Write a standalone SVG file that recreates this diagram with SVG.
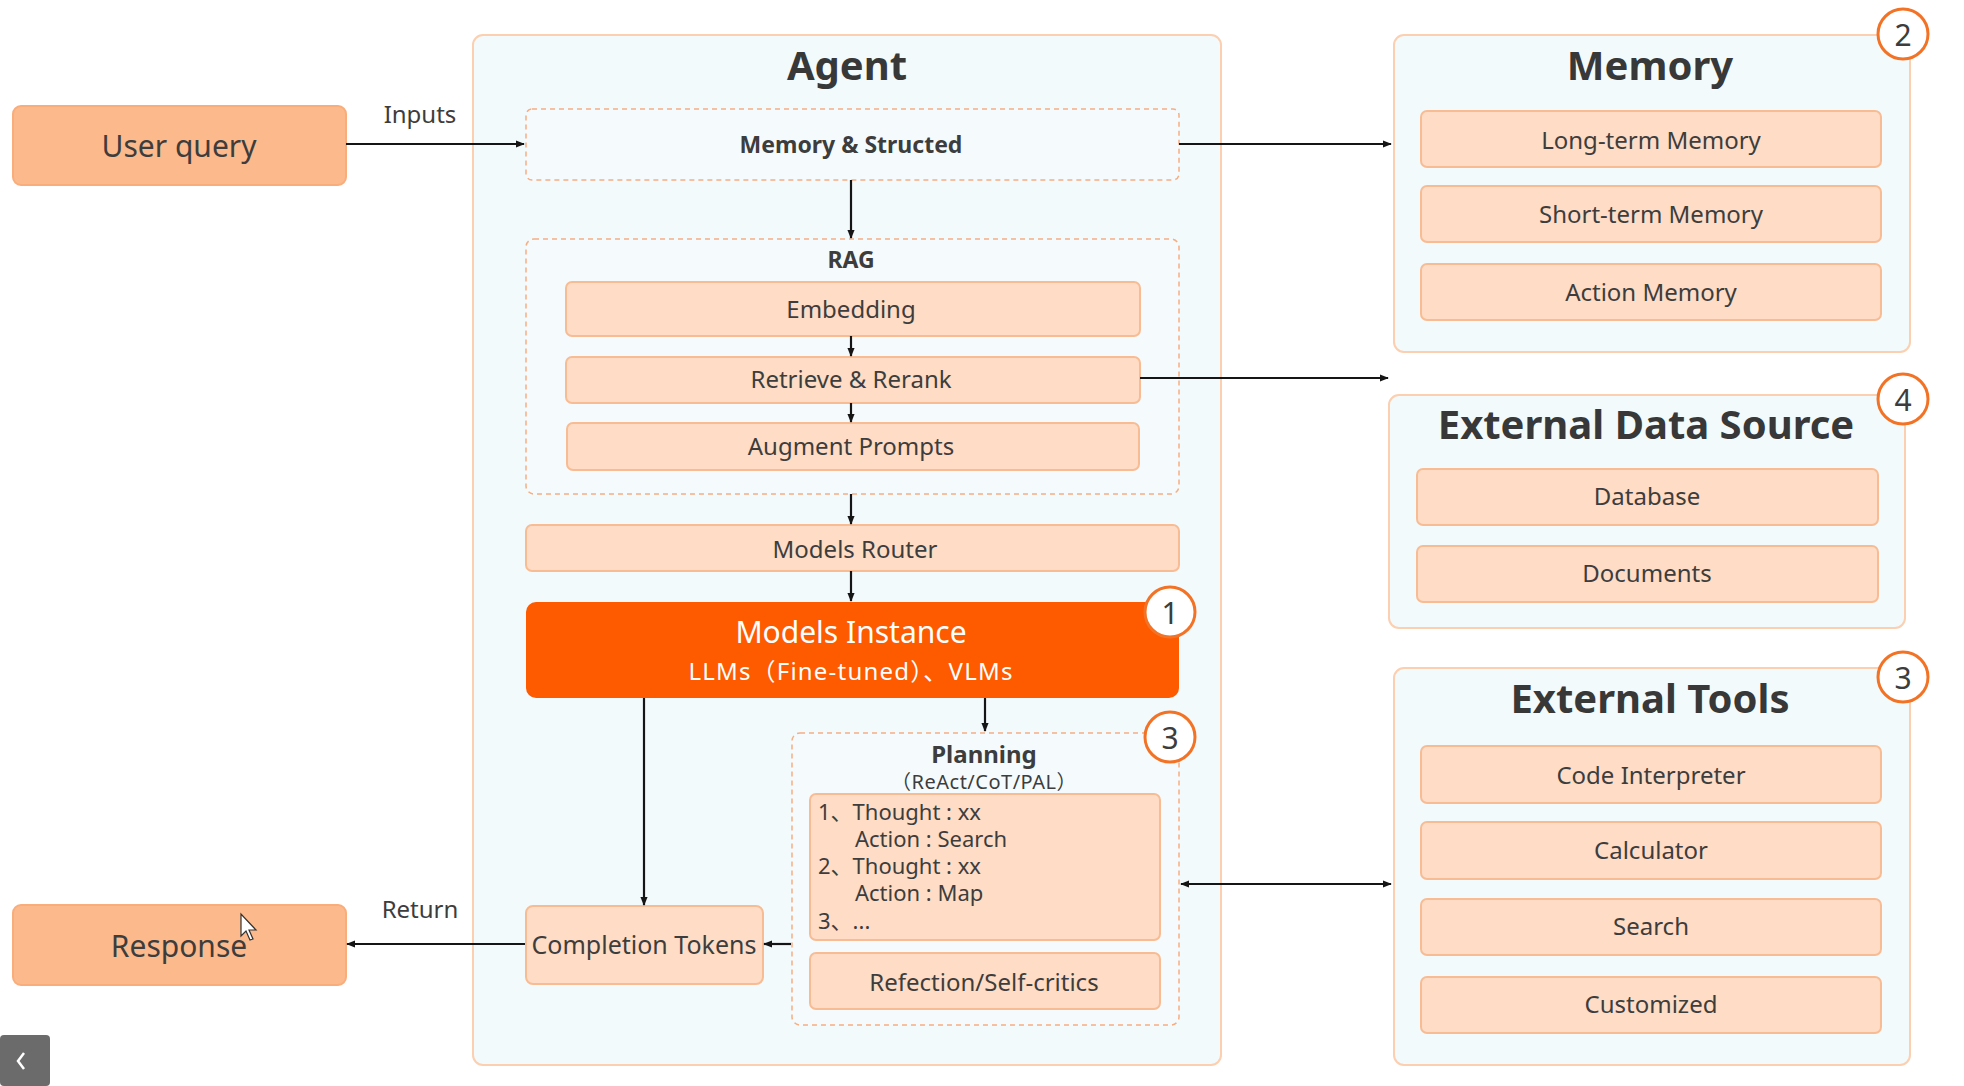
<svg xmlns="http://www.w3.org/2000/svg" width="1964" height="1086" viewBox="0 0 1964 1086">
<defs>
<style>
text{font-family:"Noto Sans","Noto Sans CJK SC",sans-serif;fill:#3d3d3d;}
.c{text-anchor:middle;dominant-baseline:central;}
.lbl{font-size:24px;}
.step{font-size:22px;}
.title{font-size:40px;font-weight:bold;fill:#383838;}
.bold{font-weight:bold;}
.cont{fill:#f3fafc;stroke:#fbcfb0;stroke-width:2;}
.dash{fill:#f5fbfd;stroke:#f6ad82;stroke-width:1.5;stroke-dasharray:5 4;}
.box{fill:#fedcc5;stroke:#f8bc94;stroke-width:2;}
.big{fill:#fcb98b;stroke:#f9ad7b;stroke-width:2;}
.badge{fill:#ffffff;stroke:#f37326;stroke-width:3;}
.num{font-size:30px;fill:#3d3d3d;}
.conn{stroke:#151515;stroke-width:2.2;fill:none;}
</style>
<marker id="ah" viewBox="0 0 10 10" refX="9" refY="5" markerWidth="9" markerHeight="9" markerUnits="userSpaceOnUse" orient="auto-start-reverse">
<path d="M0,1 L10,5 L0,9 z" fill="#151515"/>
</marker>
</defs>
<rect width="1964" height="1086" fill="#ffffff"/>

<g id="agent">
<rect class="cont" x="473" y="35" width="748" height="1030" rx="10"/>
<text class="title c" x="847" y="64">Agent</text>
</g>

<g id="user-query">
<rect class="big" x="13" y="106" width="333" height="79" rx="8"/>
<text class="c" x="179" y="145" font-size="30">User query</text>
</g>

<g id="response">
<rect class="big" x="13" y="905" width="333" height="80" rx="8"/>
<text class="c" x="179" y="945" font-size="30">Response</text>
</g>

<g id="memory-structed">
<rect class="dash" x="526" y="109" width="653" height="71" rx="6"/>
<text class="c bold" x="851" y="144" font-size="23">Memory &amp; Structed</text>
</g>

<g id="rag">
<rect class="dash" x="526" y="239" width="653" height="255" rx="8"/>
<text class="c bold" x="851" y="259" font-size="23">RAG</text>
</g>
<g id="embedding">
<rect class="box" x="566" y="282" width="574" height="54" rx="6"/>
<text class="c lbl" x="851" y="308">Embedding</text>
</g>
<g id="retrieve-rerank">
<rect class="box" x="566" y="357" width="574" height="46" rx="6"/>
<text class="c lbl" x="851" y="378">Retrieve &amp; Rerank</text>
</g>
<g id="augment-prompts">
<rect class="box" x="567" y="423" width="572" height="47" rx="6"/>
<text class="c lbl" x="851" y="445">Augment Prompts</text>
</g>

<g id="models-router">
<rect class="box" x="526" y="525" width="653" height="46" rx="6"/>
<text class="c lbl" x="855" y="548">Models Router</text>
</g>

<g id="models-instance">
<rect x="526" y="602" width="653" height="96" rx="10" fill="#fe5a00"/>
<text class="c" x="851" y="631" font-size="30" style="fill:#ffffff">Models Instance</text>
<text class="c" x="851" y="670" font-size="24" letter-spacing="1.2" style="fill:#ffffff">LLMs（Fine-tuned）、VLMs</text>
<circle class="badge" cx="1170" cy="612" r="25"/>
<text class="c num" x="1170" y="612">1</text>
</g>

<g id="planning">
<rect class="dash" x="792" y="733" width="387" height="292" rx="8"/>
<text class="c bold" x="984" y="753" font-size="24">Planning</text>
<text class="c" x="984" y="781" font-size="20" letter-spacing="0.5">（ReAct/CoT/PAL）</text>
<circle class="badge" cx="1170" cy="737" r="25"/>
<text class="c num" x="1170" y="737">3</text>
</g>
<g id="thought-steps">
<rect class="box" x="810" y="794" width="350" height="146" rx="6"/>
<text class="step" x="818" y="820">1、Thought : xx</text>
<text class="step" x="855" y="847">Action : Search</text>
<text class="step" x="818" y="874">2、Thought : xx</text>
<text class="step" x="855" y="901">Action : Map</text>
<text class="step" x="818" y="929">3、...</text>
</g>
<g id="reflection">
<rect class="box" x="810" y="953" width="350" height="56" rx="6"/>
<text class="c lbl" x="984" y="981">Refection/Self-critics</text>
</g>

<g id="completion-tokens">
<rect class="box" x="526" y="906" width="237" height="78" rx="7"/>
<text class="c" x="644" y="944" font-size="25">Completion Tokens</text>
</g>

<g id="memory">
<rect class="cont" x="1394" y="35" width="516" height="317" rx="10"/>
<text class="title c" x="1650" y="64">Memory</text>
<circle class="badge" cx="1903" cy="34" r="25"/>
<text class="c num" x="1903" y="34">2</text>
</g>
<g id="long-term-memory">
<rect class="box" x="1421" y="111" width="460" height="56" rx="6"/>
<text class="c lbl" x="1651" y="139">Long-term Memory</text>
</g>
<g id="short-term-memory">
<rect class="box" x="1421" y="186" width="460" height="56" rx="6"/>
<text class="c lbl" x="1651" y="213">Short-term Memory</text>
</g>
<g id="action-memory">
<rect class="box" x="1421" y="264" width="460" height="56" rx="6"/>
<text class="c lbl" x="1651" y="291">Action Memory</text>
</g>

<g id="external-data-source">
<rect class="cont" x="1389" y="395" width="516" height="233" rx="10"/>
<text class="title c" x="1646" y="423">External Data Source</text>
<circle class="badge" cx="1903" cy="399" r="25"/>
<text class="c num" x="1903" y="399">4</text>
</g>
<g id="database">
<rect class="box" x="1417" y="469" width="461" height="56" rx="6"/>
<text class="c lbl" x="1647" y="495">Database</text>
</g>
<g id="documents">
<rect class="box" x="1417" y="546" width="461" height="56" rx="6"/>
<text class="c lbl" x="1647" y="572">Documents</text>
</g>

<g id="external-tools">
<rect class="cont" x="1394" y="668" width="516" height="397" rx="10"/>
<text class="title c" x="1650" y="697">External Tools</text>
<circle class="badge" cx="1903" cy="677" r="25"/>
<text class="c num" x="1903" y="677">3</text>
</g>
<g id="code-interpreter">
<rect class="box" x="1421" y="746" width="460" height="57" rx="6"/>
<text class="c lbl" x="1651" y="774">Code Interpreter</text>
</g>
<g id="calculator">
<rect class="box" x="1421" y="822" width="460" height="57" rx="6"/>
<text class="c lbl" x="1651" y="849">Calculator</text>
</g>
<g id="search">
<rect class="box" x="1421" y="899" width="460" height="56" rx="6"/>
<text class="c lbl" x="1651" y="925">Search</text>
</g>
<g id="customized">
<rect class="box" x="1421" y="977" width="460" height="56" rx="6"/>
<text class="c lbl" x="1651" y="1003">Customized</text>
</g>

<g id="connectors">
<path class="conn" d="M346,144 H524" marker-end="url(#ah)"/>
<text x="420" y="113" font-size="24" class="c">Inputs</text>
<path class="conn" d="M1179,144 H1391" marker-end="url(#ah)"/>
<path class="conn" d="M851,180 V238" marker-end="url(#ah)"/>
<path class="conn" d="M851,336 V356" marker-end="url(#ah)"/>
<path class="conn" d="M851,403 V422" marker-end="url(#ah)"/>
<path class="conn" d="M851,494 V524" marker-end="url(#ah)"/>
<path class="conn" d="M851,571 V601" marker-end="url(#ah)"/>
<path class="conn" d="M1140,378 H1388" marker-end="url(#ah)"/>
<path class="conn" d="M985,698 V731" marker-end="url(#ah)"/>
<path class="conn" d="M644,698 V905" marker-end="url(#ah)"/>
<path class="conn" d="M791,944 H764" marker-end="url(#ah)"/>
<path class="conn" d="M525,944 H347" marker-end="url(#ah)"/>
<text x="420" y="908" font-size="24" class="c">Return</text>
<path class="conn" d="M1181,884 H1391" marker-start="url(#ah)" marker-end="url(#ah)"/>
</g>

<g id="screen-ui">
<rect x="0" y="1035" width="50" height="51" rx="4" fill="#6b6b6b"/>
<polyline points="24,1053 18,1061 24,1069" fill="none" stroke="#ffffff" stroke-width="2.5"/>
<path d="M241,914 L241,936 L246,931 L250,940 L253,939 L249,930 L256,930 Z" fill="#ffffff" stroke="#333333" stroke-width="1.2"/>
</g>
</svg>
